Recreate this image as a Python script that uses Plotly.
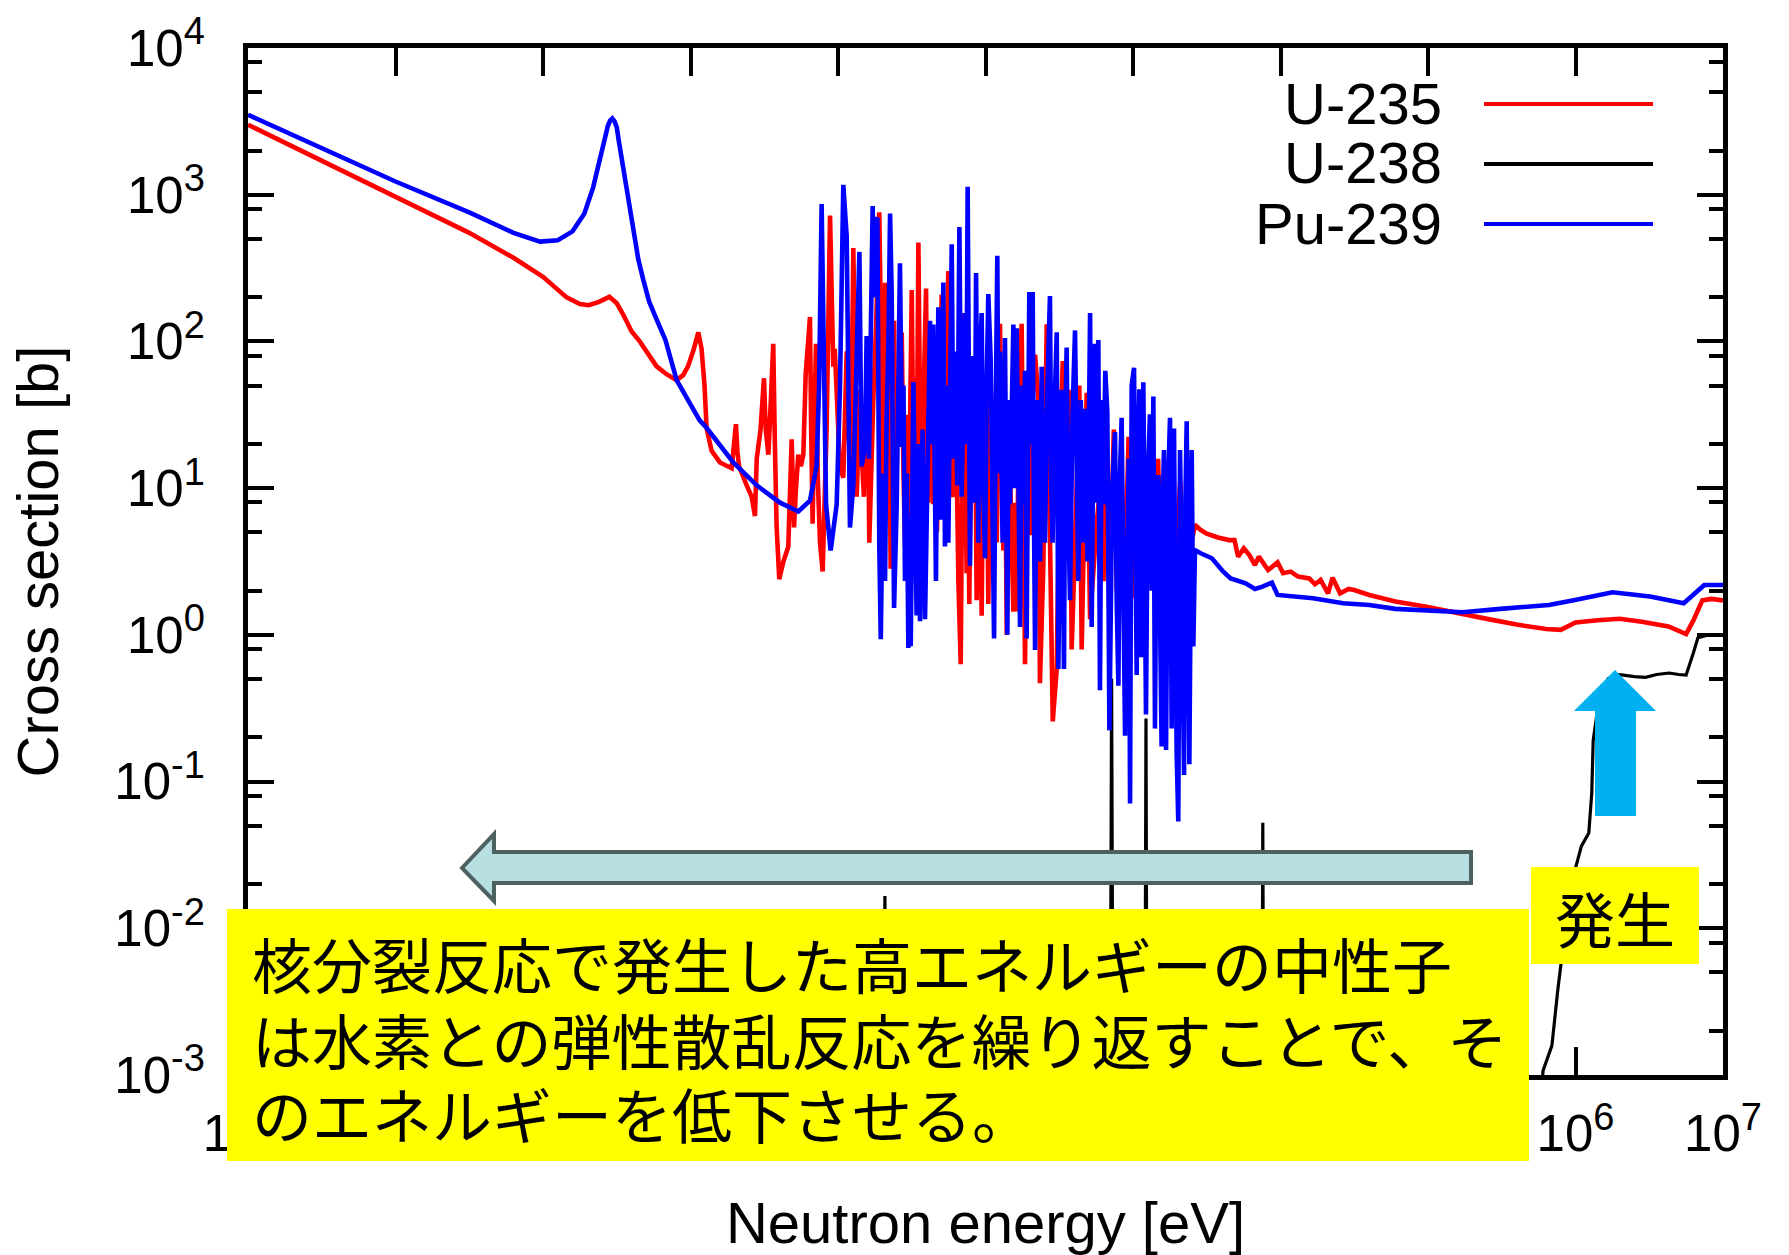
import plotly.graph_objects as go

# ---------------------------------------------------------------------------
# Data (stored as log10 values, as read on the axes)
# energy: log10(E / eV), cross section: log10(sigma / b)
# ---------------------------------------------------------------------------
U235_LOG_E = [
    -3.0, -2.5, -2.0, -1.5, -1.2, -1.0, -0.84, -0.75, -0.69, -0.62,
    -0.55, -0.50, -0.46, -0.40, -0.342, -0.30, -0.23, -0.16, -0.094, -0.05,
    -0.017, 0.02, 0.053, 0.075, 0.095, 0.109, 0.143, 0.200, 0.260, 0.279,
    0.295, 0.308, 0.318, 0.329, 0.381, 0.415, 0.437, 0.449, 0.475, 0.498,
    0.510, 0.528, 0.545, 0.561, 0.572, 0.584, 0.602, 0.629, 0.663, 0.675,
    0.686, 0.694, 0.702, 0.715, 0.731, 0.748, 0.765, 0.781, 0.810, 0.818,
    0.828, 0.840, 0.851, 0.862, 0.878, 0.896, 0.910, 0.923, 0.946, 0.956,
    0.968, 0.978, 0.991, 1.013, 1.036, 1.048, 1.059, 1.072, 1.086, 1.104,
    1.114, 1.127, 1.138, 1.149, 1.162, 1.176, 1.190, 1.201, 1.212, 1.225,
    1.239, 1.258, 1.280, 1.298, 1.307, 1.319, 1.327, 1.335, 1.346, 1.357,
    1.368, 1.380, 1.390, 1.400, 1.416, 1.432, 1.444, 1.455, 1.466, 1.477,
    1.488, 1.500, 1.511, 1.522, 1.533, 1.545, 1.556, 1.567, 1.582, 1.597,
    1.605, 1.613, 1.630, 1.646, 1.660, 1.670, 1.680, 1.692, 1.703, 1.711,
    1.720, 1.734, 1.748, 1.765, 1.782, 1.791, 1.800, 1.816, 1.832, 1.850,
    1.861, 1.872, 1.881, 1.890, 1.904, 1.918, 1.929, 1.940, 1.952, 1.963,
    1.974, 1.986, 1.997, 2.008, 2.019, 2.035, 2.050, 2.063, 2.076, 2.098,
    2.110, 2.121, 2.133, 2.144, 2.157, 2.170, 2.189, 2.200, 2.211, 2.228,
    2.245, 2.268, 2.285, 2.302, 2.319, 2.336, 2.358, 2.369, 2.392, 2.415,
    2.437, 2.456, 2.483, 2.503, 2.524, 2.550, 2.573, 2.584, 2.610, 2.636,
    2.652, 2.686, 2.709, 2.754, 2.788, 2.800, 2.820, 2.840, 2.870, 2.890,
    2.920, 2.940, 2.970, 2.990, 3.020, 3.040, 3.070, 3.090, 3.120, 3.140,
    3.170, 3.190, 3.220, 3.240, 3.270, 3.290, 3.320, 3.340, 3.370, 3.390,
    3.420, 3.460, 3.500, 3.570, 3.650, 3.688, 3.713, 3.751, 3.789, 3.827,
    3.853, 3.916, 3.980, 4.018, 4.069, 4.119, 4.195, 4.234, 4.272, 4.322,
    4.353, 4.404, 4.462, 4.500, 4.602, 4.779, 4.980, 5.240, 5.400, 5.600,
    5.800, 5.900, 6.000, 6.150, 6.300, 6.450, 6.630, 6.750, 6.800, 6.860,
    6.920, 7.000,
]
U235_LOG_XS = [
    3.477, 3.232, 2.990, 2.740, 2.570, 2.440, 2.300, 2.255, 2.247, 2.270,
    2.304, 2.260, 2.190, 2.070, 1.997, 1.930, 1.830, 1.775, 1.736, 1.770,
    1.830, 1.940, 2.062, 1.950, 1.700, 1.410, 1.254, 1.175, 1.140, 1.136,
    1.300, 1.436, 1.250, 1.149, 1.019, 0.941, 0.810, 1.201, 1.400, 1.749,
    1.400, 1.228, 1.600, 1.984, 1.300, 0.732, 0.380, 0.497, 0.601, 0.950,
    1.332, 1.000, 0.732, 1.000, 1.228, 1.150, 1.228, 1.775, 2.167, 1.400,
    0.758, 1.500, 1.984, 1.100, 0.628, 0.432, 0.900, 1.410, 2.858, 2.300,
    1.828, 1.950, 1.671, 1.149, 1.071, 1.500, 1.932, 1.400, 1.097, 2.636,
    1.800, 0.941, 1.300, 1.671, 1.200, 0.941, 1.500, 1.984, 0.628, 1.200,
    1.593, 2.100, 2.880, 1.600, 1.070, 2.400, 1.000, 1.400, 1.900, 0.450,
    1.500, 2.140, 0.900, 1.400, 1.800, 2.060, 1.100, 0.600, 1.500, 0.230,
    1.400, 2.350, 1.200, 1.750, 1.000, 2.675, 1.500, 0.900, 1.700, 2.360,
    1.300, 0.900, 2.000, 0.890, 1.800, 0.700, 1.000, 1.900, 2.320, 1.000,
    1.200, 1.900, 2.480, 1.000, 0.940, 1.700, 1.500, 0.370, -0.200, 2.190,
    1.200, 0.420, 1.500, 0.210, 1.600, 1.100, 1.700, 0.236, 1.500, 1.070,
    0.130, 1.600, 1.020, 1.500, 0.210, 1.700, 1.200, 1.600, 0.630, 2.120,
    1.300, 0.575, 1.400, 0.000, 1.500, 0.900, 0.158, 0.900, 0.160, 1.600,
    2.120, -0.200, 1.500, 0.680, 1.600, 1.910, 1.620, -0.330, 0.470, 2.117,
    0.796, -0.590, -0.230, 1.200, 1.866, 0.800, 1.670, -0.100, 0.700, 1.700,
    -0.100, 1.650, 0.106, 0.758, 1.138, 0.366, 1.300, 0.200, 1.400, 0.300,
    1.250, 0.150, 1.350, 0.250, 1.200, 0.300, 1.300, 0.350, 1.150, 0.400,
    1.200, 0.450, 1.100, 0.500, 1.150, 0.500, 1.050, 0.550, 1.000, 0.600,
    0.750, 0.714, 0.690, 0.665, 0.646, 0.646, 0.533, 0.590, 0.544, 0.476,
    0.533, 0.442, 0.494, 0.420, 0.431, 0.397, 0.385, 0.345, 0.374, 0.283,
    0.390, 0.283, 0.313, 0.306, 0.272, 0.227, 0.193, 0.136, 0.109, 0.070,
    0.040, 0.034, 0.085, 0.100, 0.110, 0.090, 0.057, 0.005, 0.100, 0.235,
    0.245, 0.235,
]

U238_LOG_E = [
    -3.0, 1.300, 1.318, 1.336, 2.840, 2.855, 2.870, 3.075, 3.088, 3.100,
    3.868, 3.880, 3.892, 5.700, 5.780, 5.840, 5.880, 5.940, 6.000, 6.040,
    6.090, 6.110, 6.120, 6.155, 6.220, 6.300, 6.400, 6.475, 6.550, 6.635,
    6.700, 6.750, 6.800, 6.830, 6.900, 7.000,
]
U238_LOG_XS = [
    -5.0, -5.0, -1.78, -5.0, -5.0, -0.30, -5.0, -5.0, -0.57, -5.0,
    -5.0, -1.28, -5.0, -4.0, -2.97, -2.80, -2.42, -1.93, -1.59, -1.44,
    -1.35, -1.08, -0.72, -0.47, -0.30, -0.272, -0.285, -0.290, -0.270, -0.260,
    -0.270, -0.274, -0.120, -0.020, 0.000, 0.000,
]

PU239_LOG_E = [
    -3.0, -2.5, -2.0, -1.5, -1.2, -1.02, -0.90, -0.80, -0.72, -0.66,
    -0.63, -0.60, -0.58, -0.56, -0.545, -0.53, -0.515, -0.50, -0.485, -0.46,
    -0.435, -0.41, -0.38, -0.354, -0.32, -0.28, -0.23, -0.17, -0.094, 0.061,
    0.110, 0.290, 0.449, 0.607, 0.731, 0.810, 0.855, 0.872, 0.889, 0.904,
    0.919, 0.950, 0.991, 1.013, 1.036, 1.059, 1.070, 1.081, 1.104, 1.145,
    1.160, 1.183, 1.194, 1.210, 1.235, 1.245, 1.255, 1.267, 1.280, 1.290,
    1.305, 1.319, 1.330, 1.341, 1.353, 1.364, 1.372, 1.380, 1.398, 1.409,
    1.420, 1.434, 1.444, 1.454, 1.466, 1.477, 1.485, 1.493, 1.511, 1.522,
    1.533, 1.545, 1.556, 1.573, 1.590, 1.607, 1.624, 1.635, 1.646, 1.664,
    1.680, 1.696, 1.714, 1.725, 1.737, 1.748, 1.771, 1.782, 1.793, 1.809,
    1.823, 1.838, 1.850, 1.861, 1.870, 1.879, 1.895, 1.907, 1.918, 1.927,
    1.936, 1.951, 1.962, 1.974, 1.985, 1.997, 2.008, 2.019, 2.035, 2.046,
    2.058, 2.069, 2.080, 2.089, 2.098, 2.116, 2.124, 2.132, 2.148, 2.157,
    2.166, 2.178, 2.189, 2.200, 2.211, 2.222, 2.234, 2.245, 2.257, 2.268,
    2.279, 2.288, 2.297, 2.308, 2.320, 2.328, 2.336, 2.347, 2.358, 2.370,
    2.381, 2.392, 2.403, 2.420, 2.437, 2.446, 2.455, 2.469, 2.483, 2.494,
    2.505, 2.516, 2.524, 2.532, 2.541, 2.550, 2.562, 2.573, 2.590, 2.607,
    2.618, 2.629, 2.646, 2.663, 2.675, 2.692, 2.709, 2.720, 2.731, 2.742,
    2.753, 2.765, 2.776, 2.788, 2.799, 2.812, 2.826, 2.840, 2.859, 2.878,
    2.890, 2.901, 2.912, 2.923, 2.935, 2.946, 2.962, 2.971, 2.980, 2.991,
    3.007, 3.016, 3.025, 3.034, 3.043, 3.057, 3.070, 3.079, 3.088, 3.101,
    3.115, 3.127, 3.138, 3.149, 3.160, 3.172, 3.183, 3.194, 3.202, 3.210,
    3.224, 3.237, 3.251, 3.262, 3.270, 3.278, 3.296, 3.307, 3.319, 3.337,
    3.346, 3.355, 3.364, 3.382, 3.390, 3.398, 3.409, 3.420, 3.459, 3.535,
    3.612, 3.662, 3.764, 3.827, 3.878, 3.942, 3.980, 4.221, 4.424, 4.602,
    4.779, 4.982, 5.236, 5.490, 5.820, 5.997, 6.251, 6.505, 6.734, 6.810,
    6.873, 7.000,
]
PU239_LOG_XS = [
    3.545, 3.320, 3.090, 2.880, 2.740, 2.680, 2.690, 2.750, 2.870, 3.050,
    3.180, 3.300, 3.400, 3.470, 3.505, 3.520, 3.500, 3.460, 3.360, 3.200,
    3.030, 2.870, 2.700, 2.560, 2.420, 2.270, 2.150, 2.010, 1.736, 1.464,
    1.410, 1.175, 1.019, 0.901, 0.841, 0.915, 1.149, 1.700, 2.936, 2.000,
    0.888, 0.575, 0.888, 1.671, 3.067, 2.715, 1.932, 0.732, 1.019, 2.610,
    1.149, 1.280, 2.036, 1.200, 2.923, 2.300, 2.820, 2.845, 0.600, -0.030,
    1.100, 0.367, 1.500, 1.932, 2.871, 2.323, 1.200, 0.184, 0.888, 1.800,
    2.532, 1.280, 1.700, 0.367, 1.100, -0.090, 0.800, -0.077, 1.723, 0.900,
    0.132, 1.300, 0.093, 1.400, 0.106, 1.100, 2.141, 1.300, 2.115, 0.367,
    2.232, 0.784, 2.402, 0.602, 1.700, 0.628, 2.663, 1.200, 1.932, 1.019,
    2.780, 0.941, 1.800, 2.193, 1.300, 3.054, 0.471, 1.900, 1.671, 0.900,
    2.467, 0.628, 1.900, 2.193, 1.000, 0.523, 1.700, 2.323, 1.880, 0.800,
    -0.025, 1.500, 2.584, 1.100, 1.932, 0.628, 1.500, 2.023, 0.001, 1.600,
    0.888, 1.500, 2.115, 1.000, 2.089, 1.200, 0.054, 1.700, 0.888, 1.800,
    -0.025, 1.200, 2.336, 1.300, 2.336, 0.900, -0.103, 1.600, 1.410, 0.500,
    1.828, 1.000, 0.628, 1.700, 2.310, 1.000, 0.628, 1.600, 2.062, -0.233,
    1.200, 1.671, 0.700, -0.233, 1.400, 1.958, 0.800, 0.236, 1.500, 2.075,
    1.200, 0.367, 1.600, 0.628, 1.541, 0.500, 2.193, 0.054, 1.400, 1.984,
    0.900, 2.010, -0.377, 1.600, 0.888, 1.800, 1.515, -0.651, 1.000, 1.382,
    0.200, -0.347, 1.100, 1.479, 0.300, -0.688, 0.578, 1.200, -1.150, 1.698,
    1.820, 0.400, -0.274, 1.200, 1.674, -0.152, 1.722, 0.600, -0.542, 1.100,
    1.503, 0.300, 1.625, -0.639, 0.900, 1.089, 0.100, -0.761, 0.900, 1.260,
    -0.785, 1.000, 1.479, -0.639, 0.800, 1.406, -0.809, -1.272, 1.260, -0.663,
    -0.955, 0.900, 1.455, -0.882, 0.800, 1.260, -0.079, 0.578, 0.556, 0.522,
    0.431, 0.385, 0.351, 0.313, 0.329, 0.356, 0.272, 0.249, 0.215, 0.204,
    0.177, 0.170, 0.154, 0.177, 0.204, 0.238, 0.290, 0.261, 0.215, 0.283,
    0.340, 0.340,
]

SERIES_NAMES = ["U-235", "U-238", "Pu-239"]
SERIES_COLORS = ["#FF0000", "#000000", "#0000FF"]

X_TICK_EXP = [-3, -2, -1, 0, 1, 2, 3, 4, 5, 6, 7]
# x tick labels 10^-2 ... 10^5 sit completely under the yellow note in the reference
X_TICK_SHOWN = [-3, 6, 7]
Y_TICK_EXP = [-3, -2, -1, 0, 1, 2, 3, 4]
Y_MINOR_MANTISSA = [2, 5, 8]

X_TITLE = "Neutron energy [eV]"
Y_TITLE = "Cross section [b]"
NOTE_LINES = [
    "核分裂反応で発生した高エネルギーの中性子",
    "は水素との弾性散乱反応を繰り返すことで、そ",
    "のエネルギーを低下させる。",
]
SOURCE_LABEL = "発生"

assert len(U235_LOG_E) == len(U235_LOG_XS)
assert len(U238_LOG_E) == len(U238_LOG_XS)
assert len(PU239_LOG_E) == len(PU239_LOG_XS)

# ---------------------------------------------------------------------------
# Layout geometry (pixels in the 1789 x 1255 page)
# ---------------------------------------------------------------------------
W, H = 1789, 1255
PL, PR, PT, PB = 248, 1723, 48, 1075
FONT = "Liberation Sans, Arial, sans-serif"
CJK = "Noto Sans CJK JP, sans-serif"


def px(x):
    return (x - PL) / (PR - PL)


def py(y):
    return (PB - y) / (PB - PT)


def pow_label(k):
    return f"10<sup><span style='font-size:38px'>{k}</span></sup>"


fig = go.Figure()
series = [
    (SERIES_NAMES[0], SERIES_COLORS[0], 4.6, U235_LOG_E, U235_LOG_XS),
    (SERIES_NAMES[1], SERIES_COLORS[1], 3.2, U238_LOG_E, U238_LOG_XS),
    (SERIES_NAMES[2], SERIES_COLORS[2], 4.6, PU239_LOG_E, PU239_LOG_XS),
]
for name, color, width, le, lx in series:
    fig.add_trace(go.Scatter(
        x=[10 ** v for v in le], y=[10 ** v for v in lx],
        mode="lines", name=name, showlegend=False, hoverinfo="skip",
        line=dict(color=color, width=width),
    ))

axis_common = dict(
    type="log", showline=True, linewidth=5, linecolor="black",
    mirror="allticks", ticks="inside", tickcolor="black", tickwidth=4,
    showgrid=False, zeroline=False,
    tickfont=dict(family=FONT, size=51, color="black"),
    title_font=dict(family=FONT, size=58, color="black"),
)
fig.update_xaxes(
    range=[X_TICK_EXP[0], X_TICK_EXP[-1]],
    tickmode="array",
    tickvals=[10 ** k for k in X_TICK_EXP],
    ticktext=[pow_label(k) if k in X_TICK_SHOWN else "" for k in X_TICK_EXP],
    ticklen=28, ticklabelstandoff=10,
    title_text=X_TITLE, title_standoff=44,
    **axis_common,
)
fig.update_yaxes(
    range=[Y_TICK_EXP[0], Y_TICK_EXP[-1]],
    tickmode="array",
    tickvals=[10 ** k for k in Y_TICK_EXP],
    ticktext=[pow_label(k) for k in Y_TICK_EXP],
    ticklen=26, ticklabelstandoff=28,
    minor=dict(
        tickmode="array",
        tickvals=[m * 10 ** k for k in Y_TICK_EXP[:-1] for m in Y_MINOR_MANTISSA],
        ticks="inside", ticklen=14, tickwidth=4, tickcolor="black",
        showgrid=False,
    ),
    title_text=Y_TITLE, title_standoff=38,
    **axis_common,
)

shapes = []
# left-pointing teal arrow (moderation)
teal = [(462, 868), (494, 834), (494, 852), (1471, 852), (1471, 883), (494, 883), (494, 901)]
shapes.append(dict(
    type="path", xref="paper", yref="paper", layer="above",
    path="M " + " L ".join(f"{px(a):.5f},{py(b):.5f}" for a, b in teal) + " Z",
    fillcolor="#B8DFE1", line=dict(color="#4E6161", width=4),
))
# up-pointing cyan arrow (generation)
cyan = [(1615, 670), (1656, 711), (1636, 711), (1636, 816), (1595, 816), (1595, 711), (1574, 711)]
shapes.append(dict(
    type="path", xref="paper", yref="paper", layer="above",
    path="M " + " L ".join(f"{px(a):.5f},{py(b):.5f}" for a, b in cyan) + " Z",
    fillcolor="#00B0F0", line=dict(width=0),
))
# yellow note boxes
shapes.append(dict(type="rect", xref="paper", yref="paper", layer="above",
                   x0=px(227), x1=px(1529), y0=py(1161), y1=py(909),
                   fillcolor="#FFFF00", line=dict(width=0)))
shapes.append(dict(type="rect", xref="paper", yref="paper", layer="above",
                   x0=px(1531), x1=px(1699), y0=py(964), y1=py(867),
                   fillcolor="#FFFF00", line=dict(width=0)))
# legend samples
legend_y = [104, 164, 224]
for ly, color in zip(legend_y, SERIES_COLORS):
    shapes.append(dict(type="line", xref="paper", yref="paper", layer="above",
                       x0=px(1484), x1=px(1653), y0=py(ly), y1=py(ly),
                       line=dict(color=color, width=4)))

annotations = []
for name, ly in zip(SERIES_NAMES, legend_y):
    annotations.append(dict(
        x=px(1444), y=py(ly - 1), xref="paper", yref="paper",
        xanchor="right", yanchor="middle", showarrow=False, text=name,
        font=dict(family=FONT, size=58, color="black"),
    ))
for line, cy in zip(NOTE_LINES, [962, 1038, 1112]):
    annotations.append(dict(
        x=px(250), y=py(cy), xref="paper", yref="paper",
        xanchor="left", yanchor="middle", showarrow=False, text=line,
        font=dict(family=CJK, size=60, color="black"),
    ))
annotations.append(dict(
    x=px(1615), y=py(916), xref="paper", yref="paper",
    xanchor="center", yanchor="middle", showarrow=False, text=SOURCE_LABEL,
    font=dict(family=CJK, size=60, color="black"),
))

fig.update_layout(
    width=W, height=H,
    margin=dict(l=PL, r=W - PR, t=PT, b=H - PB, autoexpand=False),
    paper_bgcolor="white", plot_bgcolor="white",
    showlegend=False,
    shapes=shapes, annotations=annotations,
)

fig.write_html("out.html")
